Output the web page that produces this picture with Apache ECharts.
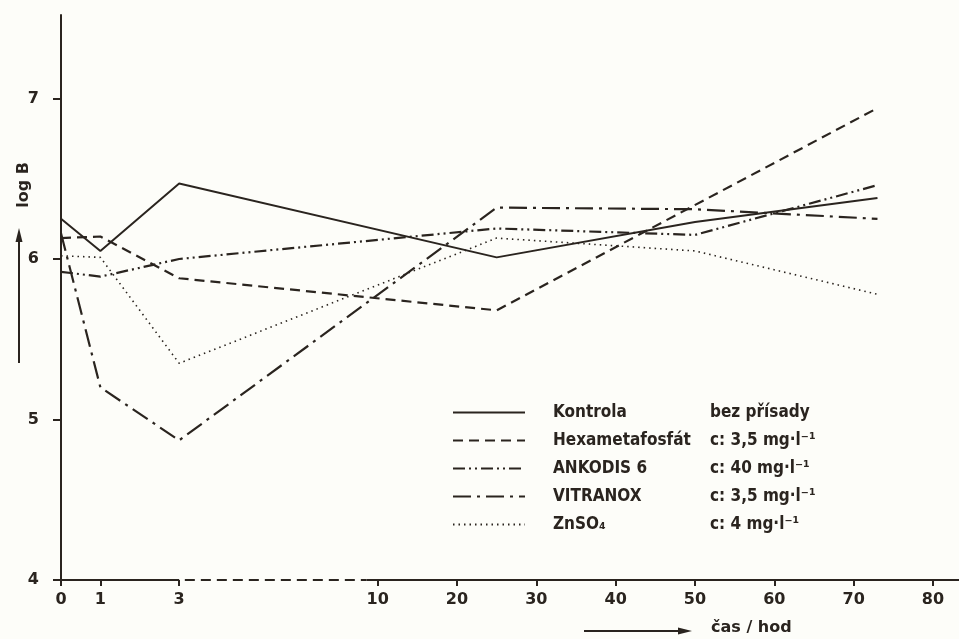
<!DOCTYPE html>
<html>
<head>
<meta charset="utf-8">
<script src="https://cdn.jsdelivr.net/npm/echarts@6/dist/echarts.min.js"></script>
<style>
  html, body { margin: 0; padding: 0; background: #fdfdf9; }
  #chart { width: 959px; height: 639px; }
</style>
</head>
<body>
<div id="chart"></div>
<script>
// time axis of the paper is compressed: 0-3 h wide, 3-10 h broken, 10-80 h narrow
const axisHours = [0, 3, 10, 80];
const axisUnits = [0, 3, 8.04, 22.14];
const xTickHours = [0, 1, 3, 10, 20, 30, 40, 50, 60, 70, 80];
const yTicks = [4, 5, 6, 7];

const names = ["Kontrola", "Hexametafosfát", "ANKODIS 6", "VITRANOX", "ZnSO₄"];
const concentrations = ["bez přísady", "c: 3,5 mg·l⁻¹", "c: 40 mg·l⁻¹", "c: 3,5 mg·l⁻¹", "c: 4 mg·l⁻¹"];

const kontrolaHours = [0, 1, 3, 25, 50, 73];
const kontrola = [6.25, 6.05, 6.47, 6.01, 6.23, 6.38];
const hexaHours = [0, 1, 3, 25, 73];
const hexa = [6.13, 6.14, 5.88, 5.68, 6.94];
const ankodisHours = [0, 1, 3, 25, 50, 73];
const ankodis = [5.92, 5.89, 6.0, 6.19, 6.15, 6.46];
const vitranoxHours = [0, 1, 3, 25, 50, 73];
const vitranox = [6.16, 5.2, 4.87, 6.32, 6.31, 6.25];
const znHours = [0, 1, 3, 25, 50, 73];
const zn = [6.02, 6.01, 5.35, 6.13, 6.05, 5.78];

const ink = "#2a241f";
const xMax = 22.8;

// map hours onto the compressed axis
function toAxis(h) {
  for (let i = 1; i < axisHours.length; i++) {
    if (h <= axisHours[i]) {
      const t = (h - axisHours[i - 1]) / (axisHours[i] - axisHours[i - 1]);
      return axisUnits[i - 1] + t * (axisUnits[i] - axisUnits[i - 1]);
    }
  }
  return axisUnits[axisUnits.length - 1];
}
function pairs(hs, vs) {
  return hs.map((h, i) => [toAxis(h), vs[i]]);
}
const xTickPos = xTickHours.map(toAxis);

const chart = echarts.init(document.getElementById("chart"));

function lineSeries(name, data, type, width) {
  return {
    name: name,
    type: "line",
    data: data,
    symbol: "none",
    silent: true,
    lineStyle: { color: ink, width: width, type: type },
    itemStyle: { color: ink },
  };
}

const series = [
  lineSeries(names[0], pairs(kontrolaHours, kontrola), "solid", 2),
  lineSeries(names[1], pairs(hexaHours, hexa), [10, 6], 2.2),
  lineSeries(names[2], pairs(ankodisHours, ankodis), [12, 4, 2, 4, 2, 4], 2.2),
  lineSeries(names[3], pairs(vitranoxHours, vitranox), [18, 6, 3, 6], 2.2),
  lineSeries(names[4], pairs(znHours, zn), [1.5, 4], 1.6),
];

// x axis line with the dashed break between 3 and 10 h
series[0].markLine = {
  silent: true,
  symbol: ["none", "none"],
  label: { show: false },
  animation: false,
  data: [
    [{ coord: [toAxis(0), 4], lineStyle: { type: "solid" } }, { coord: [toAxis(3), 4] }],
    [{ coord: [toAxis(3.2), 4], lineStyle: { type: [10, 6] } }, { coord: [toAxis(9.6), 4] }],
    [{ coord: [toAxis(9.6), 4], lineStyle: { type: "solid" } }, { coord: [xMax, 4] }],
  ],
  lineStyle: { color: ink, width: 2 },
};

const labelFont = { color: ink, fontSize: 16, fontWeight: "bold", fontFamily: "DejaVu Sans" };
const legendFont = { fontSize: 17, fontWeight: "bold", fontFamily: "DejaVu Sans Condensed", color: ink };

chart.setOption({
  animation: false,
  backgroundColor: "#fdfdf9",
  grid: { left: 61, right: 0, top: 15, bottom: 59 },
  xAxis: {
    type: "value",
    min: 0,
    max: xMax,
    splitLine: { show: false },
    axisLine: { show: false },
    axisTick: {
      show: true,
      length: 6,
      customValues: xTickPos,
      lineStyle: { color: ink, width: 2 },
    },
    axisLabel: Object.assign({
      customValues: xTickPos,
      margin: 12,
      formatter: function (v) {
        const i = xTickPos.findIndex((p) => Math.abs(p - v) < 1e-6);
        return i >= 0 ? String(xTickHours[i]) : "";
      },
    }, labelFont),
  },
  yAxis: {
    type: "value",
    min: 4,
    max: 7.52,
    splitLine: { show: false },
    axisLine: { show: true, lineStyle: { color: ink, width: 2 } },
    axisTick: { show: true, length: 8, customValues: yTicks, lineStyle: { color: ink, width: 2 } },
    axisLabel: Object.assign({ customValues: yTicks, margin: 22 }, labelFont),
  },
  legend: {
    orient: "vertical",
    left: 447,
    top: 397,
    itemWidth: 72,
    itemHeight: 14,
    itemGap: 7,
    selectedMode: false,
    data: names,
    itemStyle: { opacity: 0 },
    textStyle: {
      color: ink,
      lineHeight: 21,
      rich: {
        n: Object.assign({ width: 157, padding: [0, 0, 0, 23] }, legendFont),
        c: legendFont,
      },
    },
    formatter: function (name) {
      const i = names.indexOf(name);
      return "{n|" + name + "}{c|" + concentrations[i] + "}";
    },
  },
  graphic: [
    {
      type: "text",
      x: 24,
      y: 185,
      rotation: Math.PI / 2,
      style: {
        text: "log B",
        fill: ink,
        font: "bold 16px 'DejaVu Sans'",
        align: "center",
        verticalAlign: "middle",
      },
    },
    { type: "line", shape: { x1: 19, y1: 363, x2: 19, y2: 238 }, style: { stroke: ink, lineWidth: 2 } },
    { type: "polygon", shape: { points: [[19, 228], [15.5, 242], [22.5, 242]] }, style: { fill: ink } },
    { type: "line", shape: { x1: 584, y1: 631, x2: 680, y2: 631 }, style: { stroke: ink, lineWidth: 2 } },
    { type: "polygon", shape: { points: [[692, 631], [678, 627.5], [678, 634.5]] }, style: { fill: ink } },
    {
      type: "text",
      x: 711,
      y: 628,
      style: {
        text: "čas / hod",
        fill: ink,
        font: "bold 16px 'DejaVu Sans'",
        align: "left",
        verticalAlign: "middle",
      },
    },
  ],
  series: series,
});
</script>
</body>
</html>
